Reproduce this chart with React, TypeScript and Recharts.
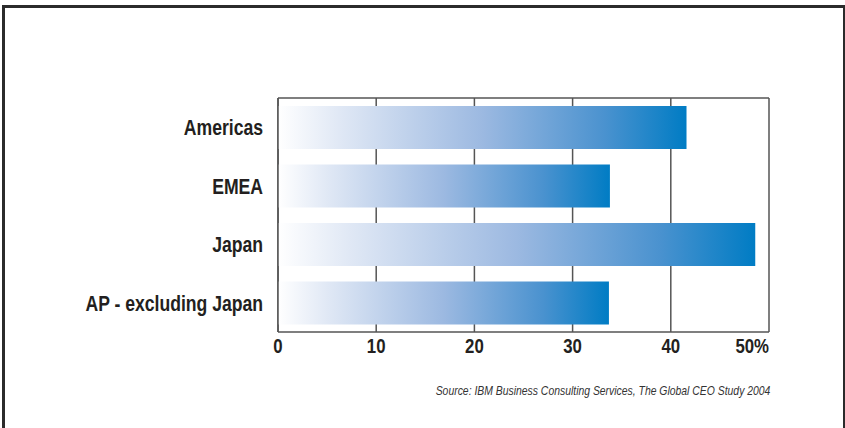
import { BarChart, Bar, XAxis, YAxis, CartesianGrid } from "recharts";

const regions = ["Americas", "EMEA", "Japan", "AP - excluding Japan"];
const shares = [41.6, 33.8, 48.6, 33.7];
const xTicks = [0, 10, 20, 30, 40, 50];
const source = "Source: IBM Business Consulting Services, The Global CEO Study 2004";

// no narrow face installed, so squeeze Liberation Sans horizontally
const FONT = "'Liberation Sans', Arial, sans-serif";
const SQUEEZE = 0.8;
const INK = "#231f20";
const LINE = "#555";

const data = regions.map((region, i) => ({ region, share: shares[i] }));

function XTick({ x, y, payload, index }: any) {
  const last = index === xTicks.length - 1;
  return (
    <text
      transform={`translate(${x},${y}) scale(${SQUEEZE},1)`}
      x={0}
      y={0}
      dy={15}
      textAnchor={last ? "end" : "middle"}
      fontFamily={FONT}
      fontWeight="bold"
      fontSize={21}
      fill={INK}
    >
      {last ? `${payload.value}%` : payload.value}
    </text>
  );
}

function YTick({ x, y, payload }: any) {
  return (
    <text
      transform={`translate(${x},${y}) scale(${SQUEEZE},1)`}
      x={0}
      y={0}
      dy={8}
      textAnchor="end"
      fontFamily={FONT}
      fontWeight="bold"
      fontSize={22}
      fill={INK}
    >
      {payload.value}
    </text>
  );
}

export default function App() {
  return (
    <div
      style={{
        position: "absolute",
        left: 0,
        top: 0,
        width: 845,
        height: 428,
        overflow: "hidden",
        background: "#fff",
      }}
    >
      <div
        style={{
          position: "absolute",
          left: 2,
          top: 5,
          width: 838,
          height: 440,
          borderLeft: "3px solid #2b2b2b",
          borderTop: "3px solid #2b2b2b",
          borderRight: "2px solid #2b2b2b",
        }}
      />
      <div style={{ position: "absolute", left: 0, top: 0 }}>
        <BarChart
          width={845}
          height={428}
          data={data}
          layout="vertical"
          margin={{ top: 97, right: 76, bottom: 66, left: 0 }}
        >
          <defs>
            <linearGradient id="barFade" x1="0" y1="0" x2="1" y2="0">
              <stop offset="0%" stopColor="#ffffff" />
              <stop offset="15%" stopColor="#e0e8f5" />
              <stop offset="50%" stopColor="#9cb9e1" />
              <stop offset="80%" stopColor="#4a92cf" />
              <stop offset="100%" stopColor="#007cc4" />
            </linearGradient>
          </defs>
          <CartesianGrid
            horizontal={false}
            stroke={LINE}
            strokeWidth={1.5}
            xAxisId="bottom"
          />
          <XAxis
            xAxisId="bottom"
            type="number"
            domain={[0, 50]}
            ticks={xTicks}
            height={30}
            tickSize={0}
            tickMargin={6}
            tickLine={false}
            axisLine={{ stroke: LINE, strokeWidth: 1.5 }}
            tick={<XTick />}
            interval={0}
          />
          <XAxis
            xAxisId="top"
            orientation="top"
            type="number"
            domain={[0, 50]}
            height={1}
            tick={false}
            tickLine={false}
            axisLine={{ stroke: LINE, strokeWidth: 1.5 }}
          />
          <YAxis
            type="category"
            dataKey="region"
            width={278}
            tickSize={0}
            tickMargin={15}
            tickLine={false}
            axisLine={{ stroke: LINE, strokeWidth: 1.5 }}
            tick={<YTick />}
            interval={0}
          />
          <Bar
            xAxisId="bottom"
            dataKey="share"
            barSize={43}
            fill="url(#barFade)"
            isAnimationActive={false}
          />
        </BarChart>
      </div>
      <div
        style={{
          position: "absolute",
          right: 75,
          top: 383,
          fontFamily: FONT,
          fontStyle: "italic",
          fontSize: 13,
          color: "#333",
          whiteSpace: "nowrap",
          transform: `scaleX(${SQUEEZE})`,
          transformOrigin: "right center",
        }}
      >
        {source}
      </div>
    </div>
  );
}
